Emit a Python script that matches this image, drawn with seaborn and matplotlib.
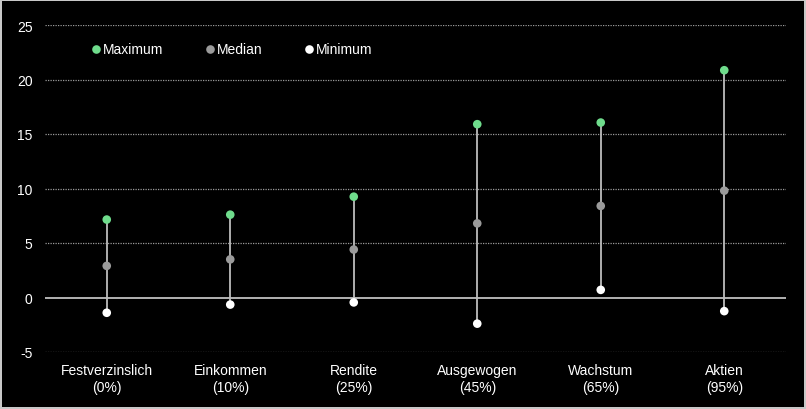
import pandas as pd
import matplotlib.pyplot as plt
import seaborn as sns

# categories and values
categories = ['Festverzinslich\n(0%)', 'Einkommen\n(10%)', 'Rendite\n(25%)',
              'Ausgewogen\n(45%)', 'Wachstum\n(65%)', 'Aktien\n(95%)']
maximum = [7.15, 7.6, 9.25, 15.9, 16.05, 20.85]
median = [2.9, 3.5, 4.4, 6.8, 8.4, 9.8]
minimum = [-1.4, -0.65, -0.45, -2.4, 0.7, -1.25]

series_names = ['Maximum', 'Median', 'Minimum']
series_colors = ['#6fdc8c', '#9a9a9a', '#ffffff']


def plot_range_chart():
    # long form table for seaborn
    df = pd.DataFrame({
        'Kategorie': categories * 3,
        'Wert': maximum + median + minimum,
        'Reihe': [n for n in series_names for _ in categories],
    })

    sns.set_style('dark')
    plt.rcParams['font.family'] = ['Liberation Sans', 'DejaVu Sans']
    plt.rcParams['axes.unicode_minus'] = False

    fig = plt.figure(figsize=(8.06, 4.10), dpi=100, facecolor='black',
                     edgecolor='#c8c8c8', linewidth=1.5)
    ax = fig.add_axes([45 / 806, 1 - 353 / 410, 741 / 806, 327 / 410])
    ax.set_facecolor('black')

    # gridlines first, then range lines, then points
    for y in [-5, 5, 10, 15, 20, 25]:
        ax.axhline(y, color='#9a9a9a', linewidth=0.9, linestyle=(0, (1, 1)), zorder=1)
    ax.axhline(0, color='#d0d0d0', linewidth=1.2, zorder=1)

    ax.vlines(categories, minimum, maximum, color='#bdbdbd', linewidth=1.3, zorder=2)

    sns.stripplot(data=df, x='Kategorie', y='Wert', hue='Reihe',
                  hue_order=series_names, palette=series_colors,
                  jitter=False, dodge=False, size=6.2, linewidth=0,
                  order=categories, ax=ax, zorder=3)

    ax.set_ylim(-5, 25)
    ax.set_xlim(-0.5, len(categories) - 0.5)
    ax.set_yticks([-5, 0, 5, 10, 15, 20, 25])
    ax.set_xlabel('')
    ax.set_ylabel('')
    ax.grid(False)
    for s in ax.spines.values():
        s.set_visible(False)
    ax.tick_params(colors='white', labelsize=10, length=0, pad=9)
    ax.tick_params(axis='x', pad=8)
    for lab in ax.get_xticklabels():
        lab.set_linespacing(1.25)

    leg = ax.legend(loc='upper left', bbox_to_anchor=(0.044, 0.985), ncol=3,
                    frameon=False, fontsize=10, handletextpad=0.1,
                    handlelength=0.8, columnspacing=2.95)
    for t in leg.get_texts():
        t.set_color('white')

    fig.savefig('out.png', dpi=100, facecolor='black', edgecolor='#c8c8c8')


if __name__ == "__main__":
    plot_range_chart()
